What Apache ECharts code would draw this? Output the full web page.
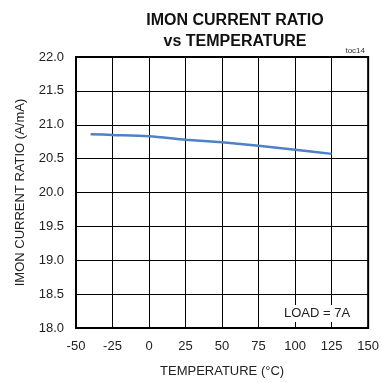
<!DOCTYPE html>
<html>
<head>
<meta charset="utf-8">
<script src="https://cdn.jsdelivr.net/npm/echarts@6/dist/echarts.min.js"></script>
<style>
  html, body { margin: 0; padding: 0; background: #fff; }
  #chart { width: 382px; height: 383px; }
</style>
</head>
<body>
<div id="chart"></div>
<script>
// IMON current ratio measured across the temperature range
const temperatures = [-40, -25, 0, 25, 50, 75, 100, 125];
const currentRatio = [20.86, 20.85, 20.83, 20.78, 20.74, 20.69, 20.63, 20.57];

const xTicks = { min: -50, max: 150, step: 25 };
const yTicks = { min: 18, max: 22, step: 0.5 };

const FONT = '"Liberation Sans", Arial, sans-serif';
const TEXT = '#222';

const chart = echarts.init(document.getElementById('chart'), null, { renderer: 'canvas' });

chart.setOption({
  animation: false,
  backgroundColor: '#fff',
  title: [
    {
      text: 'IMON CURRENT RATIO\nvs TEMPERATURE',
      left: 230, top: 5, textAlign: 'center',
      textStyle: { fontFamily: FONT, fontWeight: 'bold', fontSize: 16, lineHeight: 21, color: '#111' }
    },
    {
      text: 'toc14',
      right: 12, top: 42,
      textStyle: { fontFamily: FONT, fontWeight: 'normal', fontSize: 8, color: '#333' }
    }
  ],
  grid: {
    left: 76, right: 10, top: 57, bottom: 52,
    show: true, borderColor: '#000', borderWidth: 2, backgroundColor: 'transparent'
  },
  xAxis: {
    type: 'value',
    min: xTicks.min, max: xTicks.max, interval: xTicks.step,
    name: 'TEMPERATURE (°C)',
    nameLocation: 'middle', nameGap: 37,
    nameTextStyle: { fontFamily: FONT, fontSize: 13, color: TEXT },
    axisLine: { show: true, onZero: false, lineStyle: { color: '#000', width: 2 } },
    axisTick: { show: false },
    axisLabel: { fontFamily: FONT, fontSize: 13, color: TEXT, margin: 12 },
    splitLine: { show: true, lineStyle: { color: '#000', width: 1 } }
  },
  yAxis: {
    type: 'value',
    min: yTicks.min, max: yTicks.max, interval: yTicks.step,
    name: 'IMON CURRENT RATIO (A/mA)',
    nameLocation: 'middle', nameGap: 49,
    nameTextStyle: { fontFamily: FONT, fontSize: 13, color: TEXT },
    axisLine: { show: true, onZero: false, lineStyle: { color: '#000', width: 2 } },
    axisTick: { show: false },
    axisLabel: {
      fontFamily: FONT, fontSize: 13, color: TEXT, margin: 12,
      formatter: v => v.toFixed(1)
    },
    splitLine: { show: true, lineStyle: { color: '#000', width: 1 } }
  },
  series: [
    {
      type: 'line',
      data: temperatures.map((t, i) => [t, currentRatio[i]]),
      smooth: 0.3,
      showSymbol: false,
      lineStyle: { color: '#4f81c7', width: 2.5 },
      z: 3
    }
  ],
  graphic: [
    {
      type: 'text',
      left: 281, top: 305,
      z: 10,
      style: {
        text: 'LOAD = 7A',
        font: '13px ' + FONT,
        fill: TEXT,
        backgroundColor: '#fff',
        padding: [2, 3]
      }
    }
  ]
});
</script>
</body>
</html>
